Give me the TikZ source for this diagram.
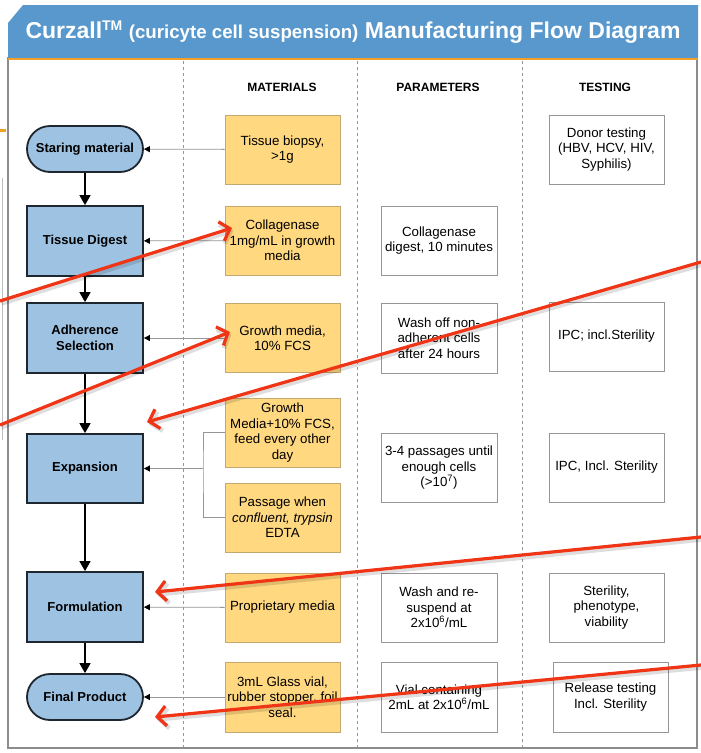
\documentclass[tikz,border=0pt]{standalone}
\usepackage{fontspec}
\setmainfont{Liberation Sans}
\usetikzlibrary{arrows.meta}
\definecolor{band}{RGB}{88,152,204}
\definecolor{flowfill}{RGB}{157,194,226}
\definecolor{flowline}{RGB}{30,38,48}
\definecolor{matfill}{RGB}{255,216,128}
\definecolor{matline}{RGB}{196,168,112}
\definecolor{boxline}{RGB}{150,150,150}
\definecolor{frameline}{RGB}{140,140,140}
\definecolor{dashline}{RGB}{150,150,150}
\definecolor{orangeline}{RGB}{242,160,40}
\definecolor{annot}{RGB}{240,52,22}
\begin{document}
\begin{tikzpicture}[x=1pt,y=-1pt,
  flowbox/.style={draw=flowline, line width=1.8pt, fill=flowfill, minimum width=116pt, minimum height=70pt, inner sep=2pt, font=\fontsize{13}{15.5}\selectfont\bfseries, align=center},
  flowterm/.style={flowbox, rounded corners=23pt, minimum height=46pt},
  matbox/.style={draw=matline, line width=0.8pt, fill=matfill, minimum width=115pt, minimum height=69pt, inner sep=2pt, font=\fontsize{13.3}{15.5}\selectfont, align=center},
  parbox/.style={matbox, draw=boxline, fill=white},
  colhead/.style={font=\fontsize{12}{14}\selectfont\bfseries},
  flowarrow/.style={line width=1.5pt, draw=black, -{Triangle[length=10pt,width=11pt]}},
  matarrow/.style={draw=boxline, line width=0.8pt, -{Triangle[length=6pt,width=6pt,color=black]}},
  matline/.style={draw=boxline, line width=0.8pt},
  annotarrow/.style={draw=annot, line width=3.2pt, -{Straight Barb[length=9pt,width=20pt]}},
  annotshadow/.style={draw=black, opacity=0.13, line width=4.5pt, -{Straight Barb[length=9pt,width=20pt]}},
  sepline/.style={draw=dashline, line width=0.6pt, dash pattern=on 3pt off 3pt},
]
\useasboundingbox (0,0) rectangle (701,753);
\fill[white] (0,0) rectangle (701,753);
% background artifacts
\draw[orangeline, line width=3pt] (0,130) -- (6,130);
\draw[black!25, line width=0.8pt] (2,178) -- (2,440);
% frame and header
\draw[frameline, line width=1.6pt] (8,58) rectangle (697,748);
\fill[band] (8,58) -- (8,23) -- (23,5) -- (698,5) -- (698,58) -- cycle;
\draw[orangeline, line width=1.8pt] (8,59) -- (698,59);
\node[text=white, font=\fontsize{23}{26}\selectfont\bfseries, inner sep=0pt] (title) at (353,32)
  {Curzall\raisebox{8pt}{\fontsize{14}{14}\selectfont TM} {\fontsize{18.7}{22}\selectfont (curicyte cell suspension)} Manufacturing Flow Diagram};
% column separators
\draw[sepline] (183,61) -- (183,747);
\draw[sepline] (357,61) -- (357,747);
\draw[sepline] (522,61) -- (522,747);
% column headers
\node[colhead] (hmat) at (282,87) {MATERIALS};
\node[colhead] (hpar) at (438,87) {PARAMETERS};
\node[colhead] (htest) at (605,87) {TESTING};
% flow nodes
\node[flowterm] (start) at (85,149) {Staring material};
\node[flowbox] (digest) at (85,241) {Tissue Digest};
\node[flowbox] (adher) at (85,338) {Adherence\\Selection};
\node[flowbox, minimum height=69pt] (expan) at (85,468.5) {Expansion};
\node[flowbox] (formu) at (85,607) {Formulation};
\node[flowterm] (final) at (85,697) {Final Product};
\draw[flowarrow] (start) -- (digest);
\draw[flowarrow] (digest) -- (adher);
\draw[flowarrow] (adher) -- (expan);
\draw[flowarrow] (expan) -- (formu);
\draw[flowarrow] (formu) -- (final);
% materials
\node[matbox] (m1) at (282.5,149.5) {Tissue biopsy,\\>1g};
\node[matbox] (m2) at (282.5,240.5) {Collagenase\\1mg/mL in growth\\media};
\node[matbox] (m3) at (282.5,338) {Growth media,\\10\% FCS};
\node[matbox] (m4) at (282.5,432.5) {Growth\\Media+10\% FCS,\\feed every other\\day};
\node[matbox] (m5) at (282.5,517.5) {Passage when\\\textit{confluent, trypsin}\\EDTA};
\node[matbox] (m6) at (282.5,607.5) {Proprietary media};
\node[matbox, minimum height=70pt] (m7) at (282.5,697) {3mL Glass vial,\\rubber stopper, foil\\seal.};
\draw[matarrow] (m1) -- (start);
\draw[matarrow] (m2) -- (digest);
\draw[matarrow] (m3) -- (adher);
\coordinate (br) at (203,468.5);
\draw[matline] (m4.west) -| (br) |- (m5.west);
\draw[matarrow] (br) -- (expan);
\draw[matarrow] (m6) -- (formu);
\draw[matarrow] (m7) -- (final);
% parameters
\node[parbox, minimum width=116pt] (p2) at (439,240.5) {Collagenase\\digest, 10 minutes};
\node[parbox, minimum width=116pt, minimum height=70pt] (p3) at (439,338) {Wash off non-\\adherent cells\\after 24 hours};
\node[parbox, minimum width=116pt] (p4) at (439,468) {3-4 passages until\\enough cells\\(>10\textsuperscript{7})};
\node[parbox, minimum width=116pt] (p6) at (439,607.5) {Wash and re-\\suspend at\\2x10\textsuperscript{6}/mL};
\node[parbox, minimum width=116pt, minimum height=70pt] (p7) at (439,697) {Vial containing\\2mL at 2x10\textsuperscript{6}/mL};
% testing
\node[parbox] (t1) at (606.5,149.5) {Donor testing\\(HBV, HCV, HIV,\\Syphilis)};
\node[parbox] (t3) at (606.5,336.5) {IPC; incl.Sterility};
\node[parbox] (t4) at (606.5,467.5) {IPC, Incl. Sterility};
\node[parbox] (t6) at (606.5,607.5) {Sterility,\\phenotype,\\viability};
\node[parbox, minimum height=70pt] (t7) at (610.5,697) {Release testing\\Incl. Sterility};
% annotation arrows
\coordinate (a1s) at (0,301);   \coordinate (a1e) at (232,228);
\coordinate (a2s) at (0,425);   \coordinate (a2e) at (230,332);
\coordinate (a3s) at (701,262); \coordinate (a3e) at (147,422);
\coordinate (a4s) at (701,537); \coordinate (a4e) at (155,592);
\coordinate (a5s) at (701,665); \coordinate (a5e) at (155,717);
\begin{scope}[transform canvas={shift={(1.5,2.5)}}]
\draw[annotshadow] (a1s) -- (a1e);
\draw[annotshadow] (a2s) -- (a2e);
\draw[annotshadow] (a3s) -- (a3e);
\draw[annotshadow] (a4s) -- (a4e);
\draw[annotshadow] (a5s) -- (a5e);
\end{scope}
\draw[annotarrow] (a1s) -- (a1e);
\draw[annotarrow] (a2s) -- (a2e);
\draw[annotarrow] (a3s) -- (a3e);
\draw[annotarrow] (a4s) -- (a4e);
\draw[annotarrow] (a5s) -- (a5e);
\end{tikzpicture}
\end{document}
